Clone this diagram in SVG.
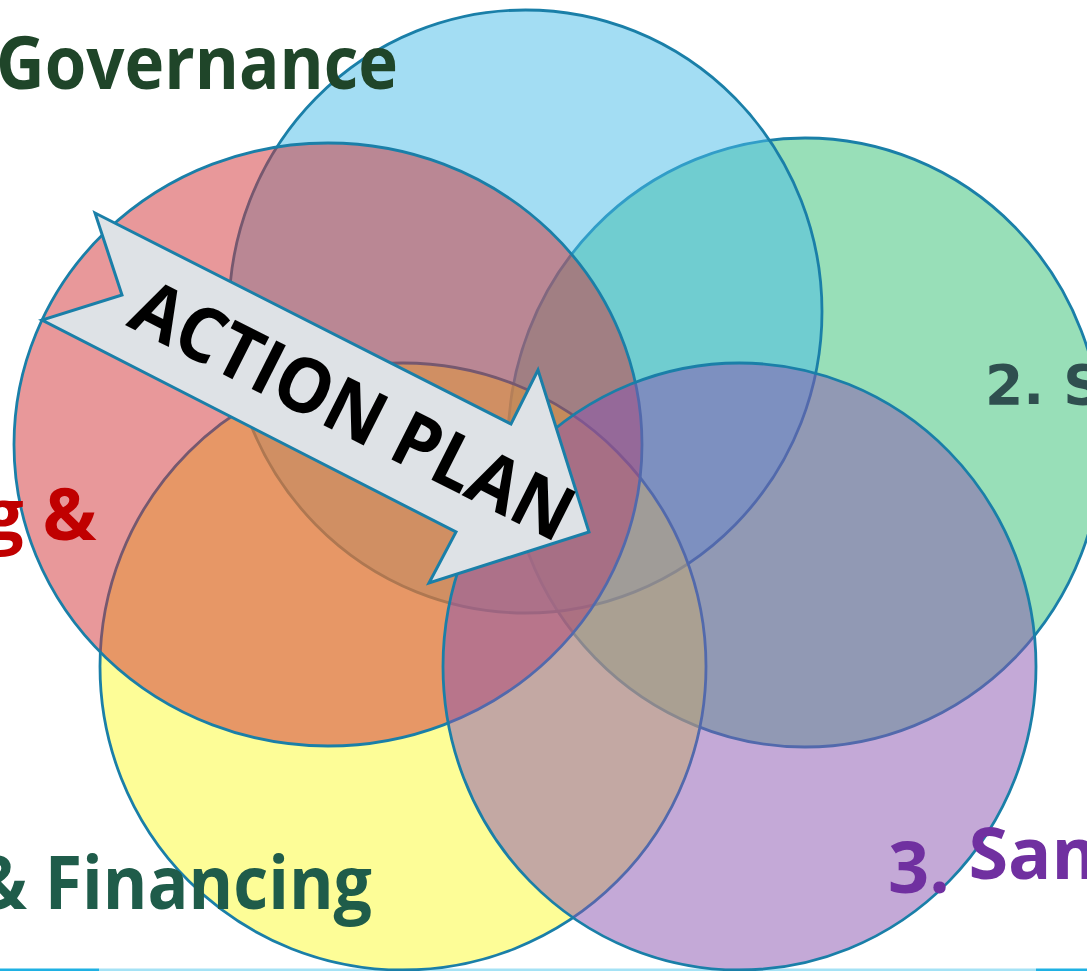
<svg xmlns="http://www.w3.org/2000/svg" width="1087" height="971" viewBox="0 0 1087 971">
  <style>
    .ring { stroke: #1a7fa8; stroke-width: 2.8; }
    .blue { fill: #47bbe7; fill-opacity: 0.5; }
    .green { fill: #31bf71; fill-opacity: 0.5; }
    .yellow { fill: #fbfb2f; fill-opacity: 0.5; }
    .red { fill: #d13135; fill-opacity: 0.5; }
    .purple { fill: #8953af; fill-opacity: 0.5; }
    .label { font-family: "Open Sans", "Noto Sans", "Liberation Sans", sans-serif; font-weight: 700; }
    .arrow { fill: #dee2e6; stroke: #1a7fa8; stroke-width: 3; stroke-linejoin: miter; }
    .arrow-text { font-family: "Open Sans", "Noto Sans", "Liberation Sans", sans-serif; font-weight: 700; font-size: 76px; fill: #000000; }
  </style>

  <rect x="0" y="0" width="1087" height="971" fill="#ffffff"/>

  <!-- slide edge rule along the bottom -->
  <g id="base-rule">
    <rect x="0" y="968.5" width="99" height="2.5" fill="#1fb1e3"/>
    <rect x="99" y="968.5" width="937" height="2.5" fill="#a5e2f5"/>
    <rect x="1036" y="968.5" width="51" height="2.5" fill="#1fb1e3"/>
  </g>

  <!-- overlapping circles -->
  <g id="circle-right">
    <ellipse class="ring green" cx="805" cy="442.5" rx="297" ry="304.5"/>
  </g>
  <g id="circle-governance">
    <ellipse class="ring blue" cx="525.5" cy="311.5" rx="296.5" ry="301.5"/>
  </g>
  <g id="circle-financing">
    <ellipse class="ring yellow" cx="403" cy="666.5" rx="303" ry="303.5"/>
  </g>
  <g id="circle-left">
    <ellipse class="ring red" cx="328" cy="444.5" rx="314" ry="301.5"/>
  </g>
  <g id="circle-sanitation">
    <ellipse class="ring purple" cx="739.5" cy="666.5" rx="296.5" ry="303.5"/>
  </g>

  <!-- labels -->
  <g id="label-governance">
    <text class="label" x="-4" y="89" font-size="74" fill="#1f4529" textLength="402" lengthAdjust="spacingAndGlyphs">Governance</text>
  </g>
  <g id="label-right">
    <text x="985" y="404" font-family="DejaVu Sans, sans-serif" font-weight="700" font-size="55" fill="#2f4f4f">2. S</text>
  </g>
  <g id="label-left">
    <text class="label" x="-17" y="540" font-size="72" font-weight="600" fill="#c00000">g &amp;</text>
  </g>
  <g id="label-financing">
    <text class="label" x="-24" y="909" font-size="74" fill="#1f5c4a" textLength="396" lengthAdjust="spacingAndGlyphs">&amp; Financing</text>
  </g>
  <g id="label-sanitation">
    <text class="label" x="888" y="893" font-size="72" font-weight="600" fill="#7030a0">3.<tspan dy="-14"> Sam</tspan></text>
  </g>

  <!-- notched block arrow across the middle -->
  <g id="action-plan">
    <polygon class="arrow" points="95,213 511,424 538,370 589,532 429,583 456,532 42,320 122,295"/>
    <text class="arrow-text" x="341" y="434" text-anchor="middle" textLength="484" lengthAdjust="spacingAndGlyphs" transform="rotate(26.8 341 434)">ACTION PLAN</text>
  </g>
</svg>
